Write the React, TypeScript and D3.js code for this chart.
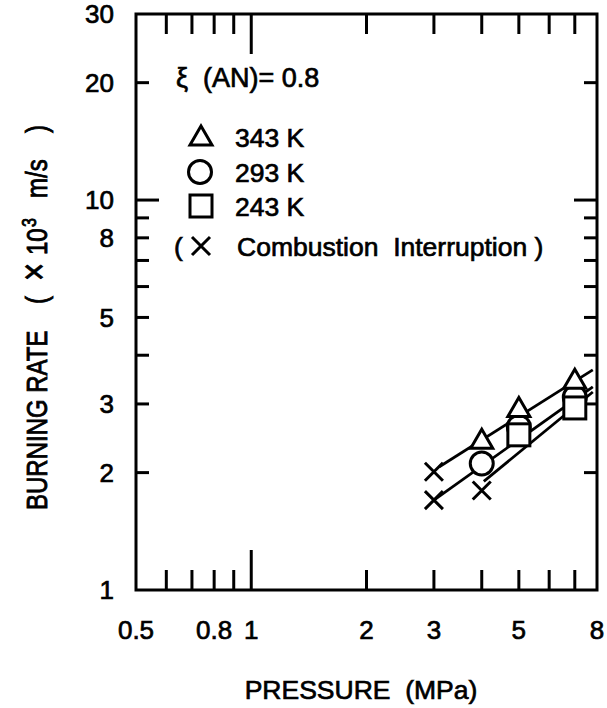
import React, { useEffect, useRef } from "react";
import * as d3 from "d3";

// ---- data ----
const xTickLabels = [0.5, 0.8, 1, 2, 3, 5, 8];
const yTickLabels = [1, 2, 3, 5, 8, 10, 20, 30];
const xMinorTicks = [0.6, 0.7, 0.8, 0.9, 2, 3, 4, 5, 6, 7];
const xMajorTicks = [1];
const yMinorTicks = [2, 3, 4, 5, 6, 7, 8, 9, 20];
const yMajorTicks = [10];

const p343 = [4, 5, 7];
const r343 = [2.42, 2.92, 3.45];
const p293 = [4, 5, 7];
const r293 = [2.11, 2.62, 3.12];
const p243 = [5, 7];
const r243 = [2.5, 2.93];
const pInterrupt = [3, 3, 4];
const rInterrupt = [2.01, 1.7, 1.8];

const fitA_p = [3.1, 7.8];
const fitA_r = [2.07, 3.67];
const fitB_p = [3.0, 7.8];
const fitB_r = [1.7, 3.32];
const fitC_p = [4.05, 7.8];
const fitC_r = [1.9, 3.22];

const legendLabels = ["343 K", "293 K", "243 K"];

export default function App() {
  const ref = useRef<SVGSVGElement>(null);

  useEffect(() => {
    const svg = d3.select(ref.current);
    svg.selectAll("*").remove();
    const W = 607, H = 708;
    const L = 136, R = 597, T = 14, B = 590;
    const font = "'Liberation Sans', Arial, sans-serif";
    const x = d3.scaleLog().domain([0.5, 8]).range([L, R]);
    const y = d3.scaleLog().domain([1, 30]).range([B, T]);

    svg.append("rect").attr("width", W).attr("height", H).attr("fill", "white");

    const g = svg.append("g");
    const sw = 3;
    const tf = (sel: any, size: number) =>
      sel.attr("font-family", font).attr("font-size", size).attr("fill", "black")
        .attr("stroke", "black").attr("stroke-width", 0.7).attr("xml:space", "preserve");

    // frame
    g.append("rect").attr("x", L).attr("y", T).attr("width", R - L).attr("height", B - T)
      .attr("fill", "none").attr("stroke", "black").attr("stroke-width", sw);

    const xt = (vals: number[], len: number) => {
      vals.forEach(v => {
        g.append("line").attr("x1", x(v)).attr("x2", x(v)).attr("y1", B).attr("y2", B - len)
          .attr("stroke", "black").attr("stroke-width", sw);
        g.append("line").attr("x1", x(v)).attr("x2", x(v)).attr("y1", T).attr("y2", T + len)
          .attr("stroke", "black").attr("stroke-width", sw);
      });
    };
    xt(xMinorTicks, 20);
    xt(xMajorTicks, 40);
    const yt = (vals: number[], len: number) => {
      vals.forEach(v => {
        g.append("line").attr("x1", L).attr("x2", L + len).attr("y1", y(v)).attr("y2", y(v))
          .attr("stroke", "black").attr("stroke-width", sw);
        g.append("line").attr("x1", R).attr("x2", R - len).attr("y1", y(v)).attr("y2", y(v))
          .attr("stroke", "black").attr("stroke-width", sw);
      });
    };
    yt(yMinorTicks, 13);
    yt(yMajorTicks, 23);

    // tick labels
    xTickLabels.forEach(v => {
      tf(g.append("text"), 26).attr("x", x(v)).attr("y", 639).attr("text-anchor", "middle").text(String(v));
    });
    yTickLabels.forEach(v => {
      tf(g.append("text"), 26).attr("x", 114).attr("y", y(v)).attr("dy", "0.36em")
        .attr("text-anchor", "end").text(String(v));
    });

    // axis titles
    tf(g.append("text"), 26.5).attr("x", 361).attr("y", 699).attr("text-anchor", "middle")
      .text("PRESSURE  (MPa)");

    const yTitle = tf(g.append("text"), 24).attr("transform", "translate(47,510) rotate(-90) scale(1,1.25)")
      .attr("text-anchor", "start");
    yTitle.append("tspan").attr("x", 0).text("BURNING RATE");
    yTitle.append("tspan").attr("x", 206).text("(");
    yTitle.append("tspan").attr("x", 229).attr("font-size", 31).text("\u00d7");
    yTitle.append("tspan").attr("x", 255).attr("font-size", 24).text("10");
    yTitle.append("tspan").attr("x", 283).attr("dy", -9).attr("font-size", 16).text("3");
    yTitle.append("tspan").attr("x", 312).attr("dy", 9).attr("font-size", 24).text("m/s");
    yTitle.append("tspan").attr("x", 377).text(")");

    // fit lines
    const line = d3.line<[number, number]>().x(d => x(d[0])).y(d => y(d[1]));
    const fits: [number[], number[]][] = [[fitA_p, fitA_r], [fitB_p, fitB_r], [fitC_p, fitC_r]];
    fits.forEach(([ps, rs]) => {
      g.append("path").attr("d", line(ps.map((p, i) => [p, rs[i]] as [number, number])))
        .attr("fill", "none").attr("stroke", "black").attr("stroke-width", 2.8);
    });

    // markers
    const tri = (cx: number, cy: number) =>
      `M${cx},${cy - 11}L${cx + 11},${cy + 8}L${cx - 11},${cy + 8}Z`;
    const drawCircle = (cx: number, cy: number) =>
      g.append("circle").attr("cx", cx).attr("cy", cy).attr("r", 11.5)
        .attr("fill", "white").attr("stroke", "black").attr("stroke-width", sw);
    const drawSquare = (cx: number, cy: number) =>
      g.append("rect").attr("x", cx - 11).attr("y", cy - 11).attr("width", 22).attr("height", 22)
        .attr("fill", "white").attr("stroke", "black").attr("stroke-width", sw);
    const drawTri = (cx: number, cy: number) =>
      g.append("path").attr("d", tri(cx, cy)).attr("fill", "white").attr("stroke", "black")
        .attr("stroke-width", sw).attr("stroke-linejoin", "miter");
    const drawCross = (cx: number, cy: number) =>
      g.append("path").attr("d", `M${cx - 9},${cy - 9}L${cx + 9},${cy + 9}M${cx + 9},${cy - 9}L${cx - 9},${cy + 9}`)
        .attr("stroke", "black").attr("stroke-width", sw).attr("fill", "none");

    p293.forEach((p, i) => drawCircle(x(p), y(r293[i])));
    p243.forEach((p, i) => drawSquare(x(p), y(r243[i])));
    p343.forEach((p, i) => drawTri(x(p), y(r343[i])));
    pInterrupt.forEach((p, i) => drawCross(x(p), y(rInterrupt[i])));

    // legend
    tf(g.append("text"), 27).attr("x", 176).attr("y", 87).text("\u03be  (AN)= 0.8");
    const rowY = [137, 172, 206];
    drawTri(201, rowY[0]);
    drawCircle(200, rowY[1]);
    drawSquare(201, rowY[2]);
    legendLabels.forEach((t, i) => {
      tf(g.append("text"), 26.5).attr("x", 235).attr("y", rowY[i]).attr("dy", "0.36em").text(t);
    });
    tf(g.append("text"), 26.5).attr("x", 174).attr("y", 246).attr("dy", "0.36em").text("(");
    drawCross(201, 246);
    tf(g.append("text"), 26.5).attr("x", 237).attr("y", 246).attr("dy", "0.36em")
      .text("Combustion  Interruption )");
  }, []);

  return (
    <svg ref={ref} width={607} height={708}
      style={{ position: "absolute", left: 0, top: 0, background: "white" }} />
  );
}
